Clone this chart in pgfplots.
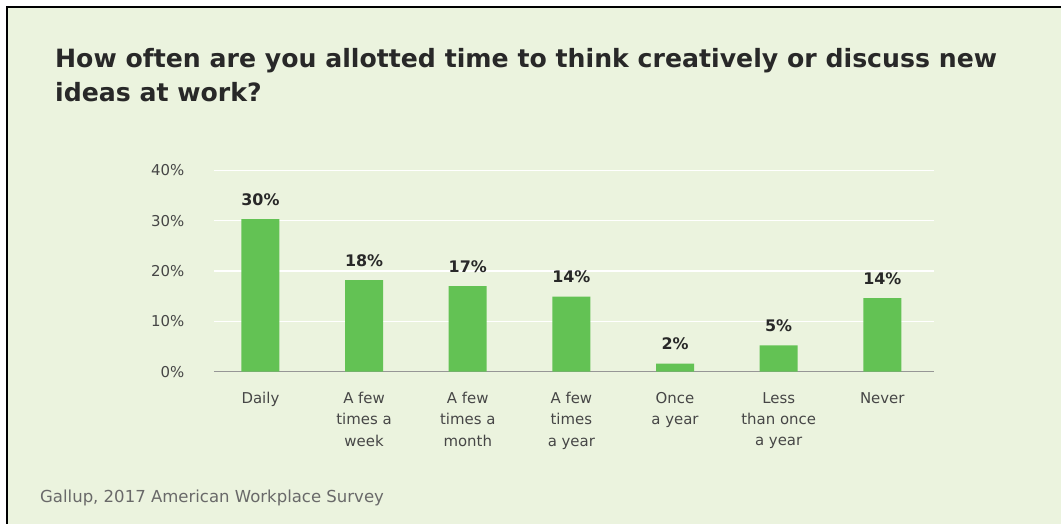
\documentclass[border=0pt]{standalone}
\usepackage{pgfplots}
\pgfplotsset{compat=1.18}
\usepackage{pgfplotstable}
\usepackage{fontspec}
\setmainfont{DejaVu Sans}
\definecolor{bg}{RGB}{235,243,222}
\definecolor{barg}{RGB}{99,194,84}
\definecolor{titlecol}{RGB}{40,40,40}
\definecolor{tickcol}{RGB}{70,70,70}
\definecolor{footcol}{RGB}{105,105,105}
\definecolor{axcol}{RGB}{150,150,150}
\pgfplotstableread{
x y lab
0 30.3 30
1 18.2 18
2 17.0 17
3 14.9 14
4 1.6 2
5 5.2 5
6 14.6 14
}\data
\begin{document}
\begin{tikzpicture}
\fill[white] (0bp,0bp) rectangle (1062bp,524bp);
\fill[bg] (8bp,0bp) rectangle (1062bp,515.5bp);
\draw[black, line width=2bp] (7bp,0bp) -- (7bp,516.5bp) -- (1062bp,516.5bp);
\node[anchor=base west, inner sep=0, text=titlecol, font=\bfseries\fontsize{25.3}{30}\selectfont] at (55bp,456bp) {How often are you allotted time to think creatively or discuss new};
\node[anchor=base west, inner sep=0, text=titlecol, font=\bfseries\fontsize{25.3}{30}\selectfont] at (55bp,422bp) {ideas at work?};
\node[anchor=base west, inner sep=0, text=footcol, font=\fontsize{16.6}{18}\selectfont] at (40bp,21bp) {Gallup, 2017 American Workplace Survey};
\begin{axis}[
  at={(214bp,152bp)}, anchor=south west,
  scale only axis, width=721bp, height=201.5bp,
  xmin=-0.45, xmax=6.5, ymin=0, ymax=40,
  axis lines=left,
  y axis line style={draw=none},
  x axis line style={-, draw=axcol, line width=1.5bp},
  major tick length=0pt,
  ymajorgrids, grid style={white, line width=1.5bp},
  ytick={0,10,20,30,40},
  yticklabels={0\%,10\%,20\%,30\%,40\%},
  xtick={0,1,2,3,4,5,6},
  xticklabels={Daily,{A few\\times a\\week},{A few\\times a\\month},{A few\\times\\a year},{Once\\a year},{Less\\than once\\a year},Never},
  ticklabel style={font=\fontsize{15}{21.5}\selectfont, text=tickcol},
  xticklabel style={align=center, anchor=north, yshift=-17bp},
  yticklabel style={anchor=east, xshift=-26bp},
  ybar, bar width=38bp,
  nodes near coords={\pgfplotspointmeta\%},
  point meta=explicit symbolic,
  nodes near coords style={font=\bfseries\fontsize{16}{16}\selectfont, text=titlecol, anchor=base, yshift=14bp, inner sep=0pt},
]
\addplot[fill=barg, draw=none] table[x=x, y=y, meta=lab] {\data};
\end{axis}
\end{tikzpicture}
\end{document}
